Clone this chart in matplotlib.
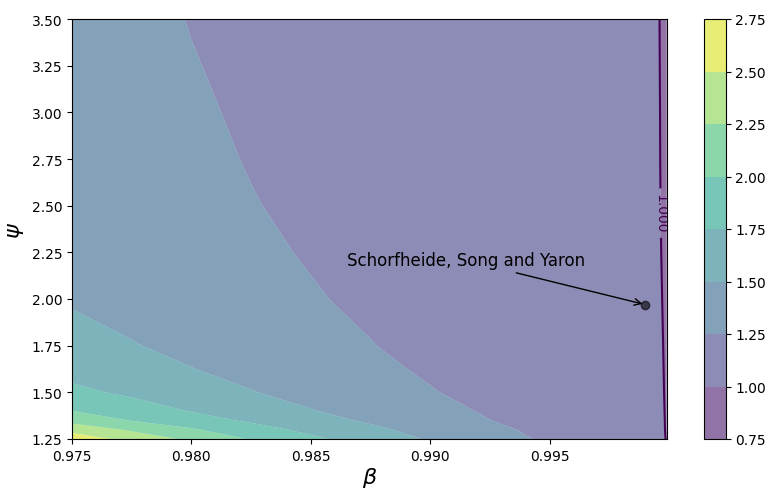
import numpy as np
import matplotlib
matplotlib.use("Agg")
import matplotlib.pyplot as plt

# Grid of discount factors (beta) and EIS (psi)
beta_grid = [0.975, 0.9775, 0.980, 0.9825, 0.985, 0.9875, 0.990, 0.9925,
             0.995, 0.9975, 0.999, 0.9999]
psi_grid = [1.25, 1.30, 1.35, 1.40, 1.50, 1.625, 1.75, 2.0, 2.25, 2.5,
            2.75, 3.0, 3.25, 3.5]

# Test values, one row per psi value
R_rows = [
    [2.660, 2.409, 2.198, 1.981, 1.799, 1.633, 1.477, 1.341, 1.214, 1.104, 1.038, 0.9978],
    [2.412, 2.215, 2.029, 1.849, 1.688, 1.548, 1.420, 1.298, 1.190, 1.0925, 1.034, 0.9971],
    [2.162, 1.988, 1.848, 1.713, 1.587, 1.467, 1.360, 1.252, 1.166, 1.081, 1.029, 0.9972],
    [2.002, 1.869, 1.7395, 1.626, 1.512, 1.414, 1.317, 1.2266, 1.1495, 1.0724, 1.0262, 0.9971],
    [1.804, 1.705, 1.607, 1.5094, 1.4256, 1.3432, 1.2609, 1.193, 1.1272, 1.0615, 1.0221, 0.9969],
    [1.668, 1.5866, 1.5052, 1.4331, 1.3617, 1.2903, 1.225, 1.1678, 1.1106, 1.0533, 1.019, 0.9968],
    [1.580, 1.5113, 1.4467, 1.383, 1.3193, 1.2556, 1.2029, 1.1512, 1.0995, 1.0478, 1.0167, 0.9967],
    [1.478, 1.4246, 1.3712, 1.3177, 1.2643, 1.2176, 1.1733, 1.129, 1.0847, 1.0404, 1.0138, 0.9963],
    [1.437, 1.3858, 1.3346, 1.2834, 1.2361, 1.1961, 1.156, 1.116, 1.076, 1.036, 1.012, 0.9959],
    [1.403, 1.3545, 1.3059, 1.2574, 1.2185, 1.1814, 1.1443, 1.1072, 1.0701, 1.033, 1.0107, 0.9957],
    [1.380, 1.3329, 1.2858, 1.2416, 1.2064, 1.1713, 1.1362, 1.101, 1.0659, 1.0308, 1.0097, 0.9958],
    [1.363, 1.3162, 1.2695, 1.2304, 1.1968, 1.1633, 1.1297, 1.0961, 1.0626, 1.029, 1.0089, 0.9960],
    [1.349, 1.3026, 1.2561, 1.2219, 1.1895, 1.1571, 1.1247, 1.0924, 1.06, 1.0276, 1.0082, 0.9961],
    [1.339, 1.2906, 1.245, 1.2138, 1.1825, 1.1513, 1.120, 1.0888, 1.0575, 1.0263, 1.0075, 0.99625],
]

ssy_beta = 0.999
ssy_psi = 1.97
ssy_label = "Schorfheide, Song and Yaron"
label_pos = (0.9865, 2.18)

R = np.array(R_rows)

fig = plt.figure(figsize=(7.66, 4.89), dpi=100)
ax = fig.add_axes([72 / 766, 1 - 440 / 489, (666.7 - 72) / 766, 420 / 489])
cax = fig.add_axes([704.3 / 766, 1 - 440 / 489, 21.4 / 766, 420 / 489])

cs1 = ax.contourf(beta_grid, psi_grid, R, alpha=0.6, cmap="viridis",
                  antialiased=True)
ctr1 = ax.contour(beta_grid, psi_grid, R, levels=[1.0], colors=["#440154"])
labels = ax.clabel(ctr1, inline=True, fontsize=10, fmt="%1.3f",
                   manual=[(0.99964, 2.46)])
for t in labels:
    t.set_rotation(-90)
    t.set_rotation_mode("anchor")
cb = fig.colorbar(cs1, cax=cax)

ax.annotate(ssy_label, xy=(ssy_beta, ssy_psi), xycoords="data",
            xytext=label_pos, textcoords="data", fontsize=12,
            arrowprops={"arrowstyle": "->"})
ax.plot([ssy_beta], [ssy_psi], "ko", alpha=0.6)

ax.set_xlabel(r"$\beta$", fontsize=16, labelpad=2)
ax.set_ylabel(r"$\psi$", fontsize=16)
ax.set_xticks([0.975, 0.980, 0.985, 0.990, 0.995])

fig.savefig("out.png", dpi=100)
